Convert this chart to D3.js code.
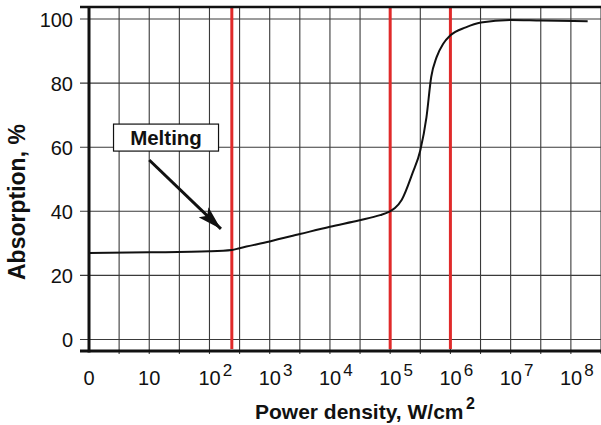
<!DOCTYPE html>
<html>
<head>
<meta charset="utf-8">
<script src="https://cdn.jsdelivr.net/npm/d3@7"></script>
<style>
  body { margin: 0; background: #fff; }
  svg { display: block; font-family: "Liberation Sans", Arial, sans-serif; }
</style>
</head>
<body>
<div id="chart"></div>
<script>
// absorption vs power density (log axis, "0" sits at 10^0)
const powerDensity = [1, 10, 100, 235, 316, 1000, 3160, 1e4, 3.1e4, 6.8e4, 9.5e4, 1.2e5, 1.55e5,
  2.35e5, 3.16e5, 4e5, 4.8e5, 5.9e5, 7.6e5, 1e6, 1.8e6, 3.2e6, 1e7, 3.2e7, 1.9e8];
const absorption = [27.0, 27.2, 27.5, 27.9, 28.5, 30.6, 32.9, 35.2, 37.2, 38.8, 39.8, 41.0, 43.5,
  51.9, 59.0, 69.3, 81.9, 88.1, 92.3, 94.9, 97.4, 98.9, 99.7, 99.5, 99.3];

const xTickValues = [1, 10, 1e2, 1e3, 1e4, 1e5, 1e6, 1e7, 1e8];
const xTickBase = ["0", "10", "10", "10", "10", "10", "10", "10", "10"];
const xTickExp = ["", "", "2", "3", "4", "5", "6", "7", "8"];
const yTickValues = [0, 20, 40, 60, 80, 100];
const redLines = [235, 1e5, 1e6];

const meltingText = "Melting";
const meltingAt = [19, 63];            // label centre (x, y data)
const arrowFrom = [10, 56];
const arrowTo = [155, 34.5];

const width = 601;
const height = 425;
const plotLeft = 89, plotRight = 601, plotTop = 7, plotBottom = 351;

const svg = d3.select("#chart").append("svg").attr("width", width).attr("height", height);

const x = d3.scaleLog().domain([1, Math.pow(10, 8.5)]).range([plotLeft, plotRight]);
const y = d3.scaleLinear().domain([0, 100]).range([339.5, 19]);

// grid: half decade verticals
const gridX = d3.range(0.5, 8.6, 0.5).map(e => Math.pow(10, e));
svg.append("g")
  .selectAll("line")
  .data(gridX)
  .join("line")
  .attr("x1", d => x(d)).attr("x2", d => x(d))
  .attr("y1", plotTop).attr("y2", plotBottom + 3)
  .attr("stroke", "#3a3a3a")
  .attr("stroke-width", 1.1);

// horizontal grid + left ticks
svg.append("g")
  .selectAll("line")
  .data(yTickValues)
  .join("line")
  .attr("x1", 80).attr("x2", plotRight)
  .attr("y1", d => y(d)).attr("y2", d => y(d))
  .attr("stroke", "#3a3a3a")
  .attr("stroke-width", 1.1);

// y labels
const yAxis = svg.append("g")
  .attr("transform", `translate(80,0)`)
  .call(d3.axisLeft(y).tickValues(yTickValues).tickSize(0).tickPadding(7));
yAxis.select(".domain").remove();
yAxis.selectAll("text")
  .attr("font-size", 20)
  .attr("font-family", "Liberation Sans, Arial, sans-serif")
  .attr("fill", "#111")
  .attr("dy", "0.36em");

// red markers
svg.append("g")
  .selectAll("line")
  .data(redLines)
  .join("line")
  .attr("x1", d => x(d)).attr("x2", d => x(d))
  .attr("y1", plotTop).attr("y2", plotBottom - 2)
  .attr("stroke", "#e02a2a")
  .attr("stroke-width", 3);

// frame
svg.append("line").attr("x1", 80).attr("x2", plotRight).attr("y1", plotTop).attr("y2", plotTop)
  .attr("stroke", "#111").attr("stroke-width", 2.5);
svg.append("line").attr("x1", 80).attr("x2", plotRight).attr("y1", plotBottom).attr("y2", plotBottom)
  .attr("stroke", "#111").attr("stroke-width", 3);
svg.append("line").attr("x1", plotLeft).attr("x2", plotLeft).attr("y1", plotTop - 1).attr("y2", plotBottom + 1.5)
  .attr("stroke", "#111").attr("stroke-width", 3);

// curve
const pts = powerDensity.map((d, i) => [d, absorption[i]]);
svg.append("path")
  .datum(pts)
  .attr("fill", "none")
  .attr("stroke", "#111")
  .attr("stroke-width", 2)
  .attr("d", d3.line().x(d => x(d[0])).y(d => y(d[1])).curve(d3.curveMonotoneX));

// x tick labels
const xl = svg.append("g").attr("font-size", 20).attr("fill", "#111");
xTickValues.forEach((v, i) => {
  const t = xl.append("text").attr("y", 385);
  if (xTickExp[i] === "") {
    t.attr("x", x(v)).attr("text-anchor", "middle").text(xTickBase[i]);
  } else {
    t.attr("x", x(v) - 11).attr("text-anchor", "start");
    t.append("tspan").text(xTickBase[i]);
    t.append("tspan").attr("font-size", 17).attr("dx", 2).attr("dy", -9).text(xTickExp[i]);
  }
});

// axis titles
svg.append("text")
  .attr("x", 255).attr("y", 419)
  .attr("font-size", 21).attr("font-weight", "bold").attr("fill", "#111")
  .text("Power density, W/cm");
svg.append("text")
  .attr("x", 466).attr("y", 409)
  .attr("font-size", 16).attr("font-weight", "bold").attr("fill", "#111")
  .text("2");

svg.append("text")
  .attr("transform", "translate(25,280) rotate(-90)")
  .attr("font-size", 23).attr("font-weight", "bold").attr("fill", "#111")
  .text("Absorption, %");

// melting annotation
const defs = svg.append("defs");
defs.append("marker")
  .attr("id", "head")
  .attr("markerUnits", "userSpaceOnUse")
  .attr("viewBox", "0 0 24 14")
  .attr("refX", 24).attr("refY", 7)
  .attr("markerWidth", 24).attr("markerHeight", 14)
  .attr("orient", "auto")
  .append("path").attr("d", "M0,0 L24,7 L0,14 L5,7 Z").attr("fill", "#111");

svg.append("line")
  .attr("x1", x(arrowFrom[0])).attr("y1", y(arrowFrom[1]))
  .attr("x2", x(arrowTo[0])).attr("y2", y(arrowTo[1]))
  .attr("stroke", "#111").attr("stroke-width", 3)
  .attr("marker-end", "url(#head)");

const bx = x(meltingAt[0]), by = y(meltingAt[1]);
svg.append("rect")
  .attr("x", bx - 52.5).attr("y", by - 13.5)
  .attr("width", 105).attr("height", 27)
  .attr("fill", "#fff").attr("stroke", "#111").attr("stroke-width", 1.2);
svg.append("text")
  .attr("x", bx).attr("y", by + 7.5)
  .attr("text-anchor", "middle")
  .attr("font-size", 20.5).attr("font-weight", "bold").attr("fill", "#111")
  .text(meltingText);
</script>
</body>
</html>
